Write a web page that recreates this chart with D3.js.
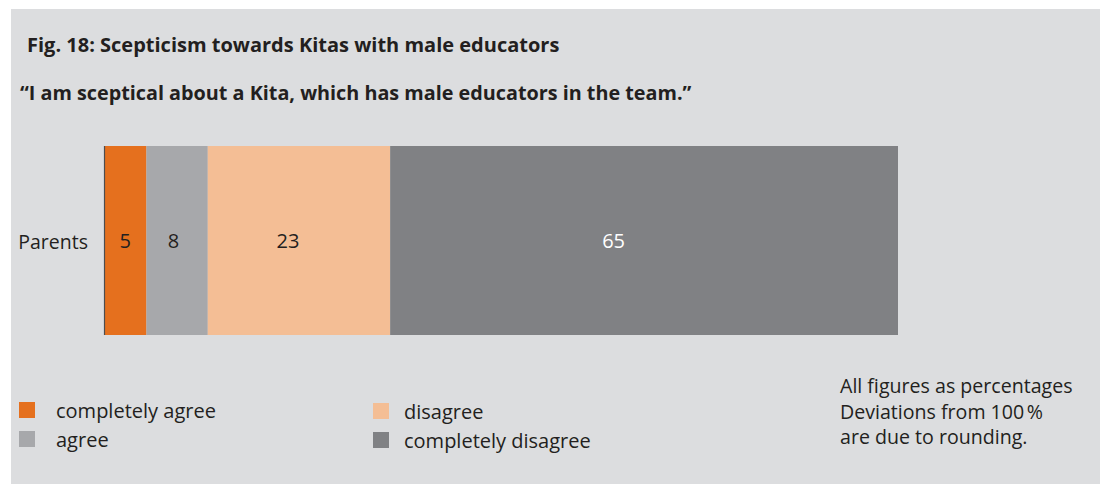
<!DOCTYPE html>
<html>
<head>
<meta charset="utf-8">
<script src="https://cdn.jsdelivr.net/npm/d3@7"></script>
<style>
  html, body { margin:0; padding:0; background:#fff; }
  svg { display:block; font-family:"Open Sans", sans-serif; }
</style>
</head>
<body>
<svg id="chart" width="1104" height="484"></svg>
<script>
/* ---------- data ---------- */
const groups     = ["Parents"];
const answers    = ["completely agree", "agree", "disagree", "completely disagree"];
// shares; printed labels are the rounded figures
const shares     = [5.4, 7.8, 23.2, 64.6];
const colours    = ["#e5701e", "#a7a8ab", "#f4be95", "#808184"];
const labelInk   = ["#231f20", "#231f20", "#231f20", "#ffffff"];
const title      = "Fig. 18: Scepticism towards Kitas with male educators";
const subtitle   = "\u201cI am sceptical about a Kita, which has male educators in the team.\u201d";
const noteLines  = ["All figures as percentages", "Deviations from 100\u202f%", "are due to rounding."];

/* ---------- layout ---------- */
const W = 1104, H = 484;
const ink = "#231f20";
const svg = d3.select("#chart");

// grey panel
svg.append("rect")
  .attr("x", 11).attr("y", 9)
  .attr("width", 1089).attr("height", H - 9)
  .attr("fill", "#dcdddf");

// headings
svg.append("text")
  .attr("x", 27).attr("y", 52)
  .attr("font-size", 20).attr("font-weight", 700).attr("fill", ink)
  .text(title);
svg.append("text")
  .attr("x", 20).attr("y", 100)
  .attr("font-size", 19.8).attr("font-weight", 700).attr("fill", ink)
  .text(subtitle);

/* ---------- scales ---------- */
const total = d3.sum(shares);
const x = d3.scaleLinear().domain([0, total]).range([104, 898]);
const y = d3.scaleBand().domain(groups).range([146, 335]).padding(0);

// stacked segments
let acc = 0;
const segs = shares.map((v, i) => {
  const s = { key: answers[i], value: v, start: acc, end: acc + v, i };
  acc += v;
  return s;
});

const bar = svg.append("g");
bar.selectAll("rect")
  .data(segs)
  .join("rect")
  .attr("x", d => x(d.start))
  .attr("y", y("Parents"))
  .attr("width", d => x(d.end) - x(d.start))
  .attr("height", y.bandwidth())
  .attr("fill", d => colours[d.i]);

bar.selectAll("text")
  .data(segs)
  .join("text")
  .attr("x", d => x(d.start + d.value * (d.i ? 0.44 : 0.5)))
  .attr("y", y("Parents") + y.bandwidth() / 2)
  .attr("dy", "0.36em")
  .attr("text-anchor", "middle")
  .attr("font-size", 20)
  .attr("fill", d => labelInk[d.i])
  .text(d => Math.round(d.value));

// thin base line at zero
svg.append("line")
  .attr("x1", x(0) + 0.5).attr("x2", x(0) + 0.5)
  .attr("y1", y("Parents")).attr("y2", y("Parents") + y.bandwidth())
  .attr("stroke", "#4d4d4f").attr("stroke-width", 1.2);

// category axis
const yAxis = svg.append("g")
  .attr("transform", `translate(${x(0)},0)`)
  .call(d3.axisLeft(y).tickSize(0).tickPadding(16));
yAxis.select(".domain").remove();
yAxis.selectAll("text")
  .attr("font-family", "Open Sans, sans-serif")
  .attr("font-size", 19.5)
  .attr("dy", "0.42em")
  .attr("fill", ink);

/* ---------- legend ---------- */
const legend = svg.append("g");
const items = legend.selectAll("g")
  .data(answers)
  .join("g")
  .attr("transform", (d, i) => {
    const col = Math.floor(i / 2), row = i % 2;
    return `translate(${col ? 373 : 19},${402 + row * 29 + col})`;
  });
items.append("rect")
  .attr("width", 16).attr("height", 16)
  .attr("fill", (d, i) => colours[i]);
items.append("text")
  .attr("x", (d, i) => i < 2 ? 37 : 31)
  .attr("y", 15.5)
  .attr("font-size", 20)
  .attr("fill", ink)
  .text(d => d);

/* ---------- note ---------- */
svg.append("g").selectAll("text")
  .data(noteLines)
  .join("text")
  .attr("x", 840)
  .attr("y", (d, i) => 393 + i * 25.5)
  .attr("font-size", 19.6)
  .attr("fill", ink)
  .text(d => d);
</script>
</body>
</html>
